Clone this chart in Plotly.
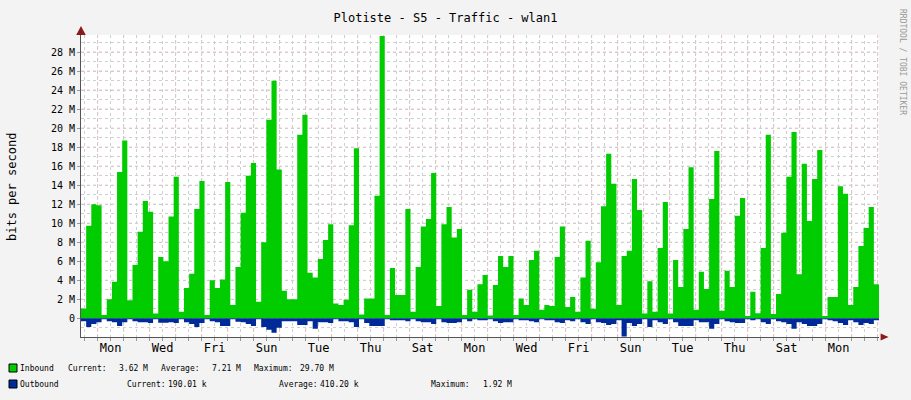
import plotly.graph_objects as go

# inbound traffic (Mbit/s), one value per ~4.75 h step
inbound = [
    1.05, 9.75, 12.0, 11.9, 0.35, 2.0, 3.86, 15.4, 18.7, 1.9,
    5.6, 9.1, 12.35, 11.2, 0.5, 6.45, 6.0, 10.7, 14.9, 0.7,
    3.2, 4.7, 11.5, 14.45, 0.35, 4.0, 3.2, 4.1, 14.35, 1.4,
    5.4, 11.1, 15.0, 16.35, 1.75, 8.0, 20.9, 25.0, 15.65, 2.9,
    2.0, 2.0, 19.3, 21.4, 4.8, 4.3, 6.25, 8.25, 9.9, 1.55,
    1.4, 1.95, 9.8, 17.9, 0.4, 2.1, 2.1, 12.9, 29.7, 0.35,
    5.3, 2.45, 2.45, 11.5, 0.7, 5.4, 9.65, 10.45, 15.3, 1.3,
    9.9, 11.7, 8.5, 9.4, 0.35, 3.0, 0.7, 3.6, 4.55,
    0.3, 3.5, 6.55, 5.4, 6.55, 0.35, 2.1, 1.4, 6.15, 7.1,
    0.9, 1.4, 1.3, 6.45, 9.65, 1.2, 2.25, 0.7, 4.3, 8.15,
    1.0, 5.9, 11.8, 17.3, 14.15, 1.4, 6.55, 7.1, 14.65, 11.4,
    0.5, 3.9, 0.7, 7.4, 12.25, 0.5, 6.15, 3.3, 9.4, 15.9,
    0.9, 4.9, 3.1, 12.55, 17.6, 0.8, 5.0, 3.3, 10.8, 12.65,
    0.25, 2.8, 0.55, 7.4, 19.3, 0.45, 2.55, 9.0, 14.9, 19.6,
    4.65, 16.25, 10.25, 14.65, 17.7, 0.25, 2.25, 2.25, 13.9, 13.1,
    1.4, 3.3, 7.6, 9.5, 11.7, 3.6,
]

# outbound traffic drawn below zero (Mbit/s)
outbound = [
    -0.3, -0.9, -0.6, -0.4, -0.1, -0.3, -0.4, -0.8, -0.4, -0.1,
    -0.3, -0.4, -0.4, -0.5, -0.1, -0.45, -0.45, -0.4, -0.5, -0.1,
    -0.4, -0.6, -0.9, -0.5, -0.1, -0.3, -0.4, -0.8, -0.8, -0.1,
    -0.35, -0.4, -0.6, -0.8, -0.1, -0.9, -1.2, -1.5, -1.0, -0.3,
    -0.3, -0.3, -0.7, -0.7, -0.3, -1.1, -0.4, -0.4, -0.5, -0.1,
    -0.3, -0.3, -0.4, -0.9, -0.1, -0.5, -0.8, -0.8, -0.8, -0.1,
    -0.2, -0.2, -0.2, -0.3, -0.1, -0.3, -0.4, -0.4, -0.6, -0.1,
    -0.4, -0.5, -0.5, -0.4, -0.1, -0.3, -0.1, -0.2, -0.2,
    -0.1, -0.3, -0.5, -0.4, -0.4, -0.1, -0.2, -0.2, -0.3, -0.4,
    -0.1, -0.2, -0.2, -0.4, -0.5, -0.2, -0.3, -0.1, -0.4, -0.6,
    -0.1, -0.4, -0.5, -0.7, -0.6, -0.2, -1.9, -0.5, -0.8, -0.6,
    -0.1, -0.9, -0.2, -0.4, -0.6, -0.1, -0.4, -0.8, -0.8, -0.8,
    -0.2, -0.4, -0.4, -1.1, -0.6, -0.1, -0.3, -0.4, -0.5, -0.5,
    -0.1, -0.2, -0.1, -0.4, -0.6, -0.1, -0.3, -0.4, -0.6, -1.1,
    -0.4, -0.6, -0.8, -0.8, -0.6, -0.1, -0.2, -0.3, -0.5, -0.7,
    -0.2, -0.4, -0.7, -0.5, -0.6, -0.2,
]

day_labels = ['Mon', 'Wed', 'Fri', 'Sun', 'Tue', 'Thu', 'Sat', 'Mon',
              'Wed', 'Fri', 'Sun', 'Tue', 'Thu', 'Sat', 'Mon']
y_ticks = list(range(0, 29, 2))
y_labels = ['0'] + [f'{v} M' for v in y_ticks[1:]]

# time axis in days since the first Monday 00:00
t_start, t_end = -0.64, 30.05
step = (t_end - t_start) / len(inbound)
x = [t_start + i * step for i in range(len(inbound))] + [t_end]

MONO = 'DejaVu Sans Mono'

fig = go.Figure()
fig.add_trace(go.Scatter(x=x, y=inbound + inbound[-1:], mode='lines', line_shape='hv',
                         line=dict(width=0, color='#00cc00'), fill='tozeroy',
                         fillcolor='#00cc00', name='Inbound'))
fig.add_trace(go.Scatter(x=x, y=outbound + outbound[-1:], mode='lines', line_shape='hv',
                         line=dict(width=0, color='#002a97'), fill='tozeroy',
                         fillcolor='#002a97', name='Outbound'))

fig.update_layout(
    width=911, height=400,
    margin=dict(l=81, r=32, t=35, b=63),
    paper_bgcolor='#f3f3f3', plot_bgcolor='#ffffff',
    showlegend=False,
    font=dict(family=MONO, size=10, color='#000'),
    title=dict(text='Plotiste - S5 - Traffic - wlan1', x=0.489, xanchor='center',
               y=0.965, font=dict(family=MONO, size=12)),
)
fig.update_xaxes(
    range=[t_start, t_end], tickvals=[0.5 + 2 * i for i in range(len(day_labels))],
    ticktext=day_labels, ticks='', tickfont=dict(size=12),
    showgrid=False, showline=True, linecolor='#555', linewidth=1,
    minor=dict(dtick=0.5, tick0=0, showgrid=True, gridcolor='#cfcfcf', griddash='dot',
               ticks='outside', ticklen=3, tickcolor='#999'),
    zeroline=False,
)
fig.update_yaxes(
    range=[-1.96, 29.8], tickvals=y_ticks, ticktext=y_labels,
    ticks='outside', ticklen=3, tickcolor='#999', tickfont=dict(size=10),
    showgrid=False, showline=True, linecolor='#555', linewidth=1, zeroline=False,
    minor=dict(dtick=1, tick0=0, showgrid=True, gridcolor='#cfcfcf', griddash='dot'),
)
# red major grid: days and 2 M steps
for d in range(0, 31):
    fig.add_shape(type='line', x0=d, x1=d, y0=0, y1=1, xref='x', yref='paper',
                  line=dict(color='rgba(230,120,120,0.6)', width=1, dash='dot'), layer='below')
for v in range(0, 30, 2):
    fig.add_shape(type='line', x0=0, x1=1, y0=v, y1=v, xref='paper', yref='y',
                  line=dict(color='rgba(230,120,120,0.6)', width=1, dash='dot'), layer='below')

# axis arrows
fig.add_shape(type='path', xref='paper', yref='paper',
              path='M -0.006 1.0 L 0.006 1.0 L 0 1.03 Z', fillcolor='#8b1a1a', line_width=0)
fig.add_shape(type='path', xref='paper', yref='paper',
              path='M 1.002 -0.012 L 1.002 0.012 L 1.012 0 Z', fillcolor='#8b1a1a', line_width=0)

ann = [
    dict(text='bits per second', x=12, y=187, textangle=-90, size=12),
    dict(text='RRDTOOL / TOBI OETIKER', x=903, y=62, textangle=90, size=8, color='#999'),
    dict(text='Inbound', x=19, y=368, anchor='left'),
    dict(text='Current:', x=67, y=368, anchor='left'),
    dict(text='3.62 M', x=149, y=368, anchor='right'),
    dict(text='Average:', x=160, y=368, anchor='left'),
    dict(text='7.21 M', x=242, y=368, anchor='right'),
    dict(text='Maximum:', x=253, y=368, anchor='left'),
    dict(text='29.70 M', x=335, y=368, anchor='right'),
    dict(text='Outbound', x=19, y=384, anchor='left'),
    dict(text='Current:', x=126, y=384, anchor='left'),
    dict(text='190.01 k', x=208, y=384, anchor='right'),
    dict(text='Average:', x=278, y=384, anchor='left'),
    dict(text='410.20 k', x=360, y=384, anchor='right'),
    dict(text='Maximum:', x=430, y=384, anchor='left'),
    dict(text='1.92 M', x=513, y=384, anchor='right'),
]
pw, ph = 911 - 81 - 32, 400 - 35 - 63
for a in ann:
    fig.add_annotation(
        text=a['text'], xref='paper', yref='paper', showarrow=False,
        x=(a['x'] - 81) / pw, y=(400 - 63 - a['y']) / ph,
        xanchor=a.get('anchor', 'center'), yanchor='middle', borderpad=0,
        textangle=a.get('textangle', 0),
        font=dict(family=MONO, size=a.get('size', 8), color=a.get('color', '#000')))

# legend swatches
for yc, col in [(368, '#00cc00'), (384, '#002a97')]:
    fig.add_shape(type='rect', xref='paper', yref='paper',
                  x0=(9 - 81) / pw, x1=(17 - 81) / pw,
                  y0=(400 - 63 - yc - 4) / ph, y1=(400 - 63 - yc + 4) / ph,
                  fillcolor=col, line=dict(color='#000', width=1))

fig.write_html('out.html', config={'displayModeBar': False},
               post_script="document.body.style.margin='0';")
